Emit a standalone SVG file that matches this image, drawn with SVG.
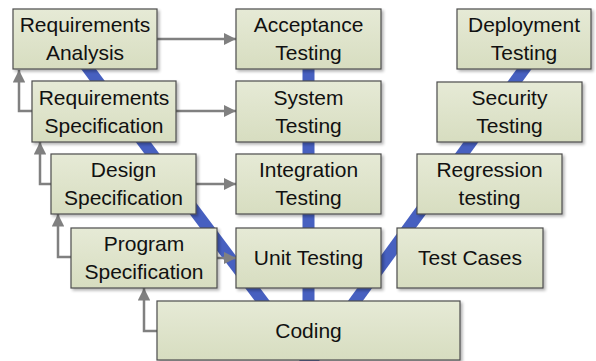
<svg xmlns="http://www.w3.org/2000/svg" width="596" height="361" viewBox="0 0 596 361">
<defs>
<linearGradient id="g" x1="0" y1="0" x2="0" y2="1">
<stop offset="0" stop-color="#e6ead6"/>
<stop offset="1" stop-color="#d7ddc0"/>
</linearGradient>
<filter id="sh" x="-10%" y="-10%" width="130%" height="140%">
<feGaussianBlur in="SourceAlpha" stdDeviation="1.5"/>
<feOffset dx="2" dy="2" result="b"/>
<feComponentTransfer><feFuncA type="linear" slope="0.3"/></feComponentTransfer>
<feMerge><feMergeNode/><feMergeNode in="SourceGraphic"/></feMerge>
</filter>
<marker id="ah" viewBox="0 0 10 10" refX="10" refY="5" markerWidth="5" markerHeight="5" orient="auto" markerUnits="strokeWidth">
<path d="M0,0 L10,5 L0,10 z" fill="#808080"/>
</marker>
</defs>
<style>
.box{fill:url(#g);stroke:#4d4d4d;stroke-width:1.2;filter:url(#sh)}
.t{font-family:"Liberation Sans",Arial,sans-serif;font-size:21px;fill:#111111;text-anchor:middle}
.v{stroke:#4760c0;stroke-width:12;fill:none}
.a{stroke:#808080;stroke-width:2.5;fill:none;marker-end:url(#ah)}
</style>
<rect width="596" height="361" fill="#ffffff"/>
<g id="v-lines">
<line class="v" x1="66" y1="39" x2="311" y2="366"/>
<line class="v" x1="308.5" y1="39" x2="308.5" y2="366"/>
<line class="v" x1="546" y1="39" x2="308" y2="366"/>
</g>
<g id="connectors">
<line class="a" x1="157" y1="39" x2="236" y2="39"/>
<line class="a" x1="176" y1="111" x2="236" y2="111"/>
<line class="a" x1="196" y1="184" x2="236" y2="184"/>
<line class="a" x1="217" y1="258" x2="236" y2="258"/>
<polyline class="a" points="32,111 19,111 19,70"/>
<polyline class="a" points="51,184 40,184 40,142"/>
<polyline class="a" points="71,257 58,257 58,214"/>
<polyline class="a" points="157,331 144,331 144,288"/>
</g>
<g id="req-analysis"><rect class="box" x="13" y="9" width="144" height="60"/><text class="t" x="85" y="32">Requirements</text><text class="t" x="85" y="60">Analysis</text></g>
<g id="req-spec"><rect class="box" x="32" y="81" width="144" height="61"/><text class="t" x="104" y="105">Requirements</text><text class="t" x="104" y="133">Specification</text></g>
<g id="design-spec"><rect class="box" x="51" y="154" width="145" height="60"/><text class="t" x="123.5" y="177">Design</text><text class="t" x="123.5" y="205">Specification</text></g>
<g id="program-spec"><rect class="box" x="71" y="228" width="146" height="60"/><text class="t" x="144" y="251">Program</text><text class="t" x="144" y="279">Specification</text></g>
<g id="coding"><rect class="box" x="157" y="301" width="303" height="59"/><text class="t" x="308.5" y="338">Coding</text></g>
<g id="acceptance"><rect class="box" x="236" y="9" width="145" height="60"/><text class="t" x="308.5" y="32">Acceptance</text><text class="t" x="308.5" y="60">Testing</text></g>
<g id="system"><rect class="box" x="236" y="81" width="145" height="61"/><text class="t" x="308.5" y="105">System</text><text class="t" x="308.5" y="133">Testing</text></g>
<g id="integration"><rect class="box" x="236" y="154" width="145" height="60"/><text class="t" x="308.5" y="177">Integration</text><text class="t" x="308.5" y="205">Testing</text></g>
<g id="unit"><rect class="box" x="236" y="228" width="145" height="60"/><text class="t" x="308.5" y="265">Unit Testing</text></g>
<g id="test-cases"><rect class="box" x="397" y="228" width="146" height="60"/><text class="t" x="470" y="265">Test Cases</text></g>
<g id="regression"><rect class="box" x="417" y="154" width="145" height="60"/><text class="t" x="489.5" y="177">Regression</text><text class="t" x="489.5" y="205">testing</text></g>
<g id="security"><rect class="box" x="437" y="82" width="145" height="60"/><text class="t" x="509.5" y="105">Security</text><text class="t" x="509.5" y="133">Testing</text></g>
<g id="deployment"><rect class="box" x="457" y="9" width="134" height="60"/><text class="t" x="524" y="32">Deployment</text><text class="t" x="524" y="60">Testing</text></g>
</svg>
